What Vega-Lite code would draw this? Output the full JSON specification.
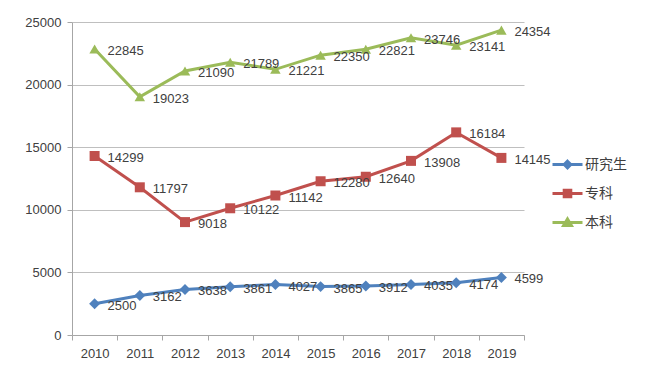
{
  "$schema": "https://vega.github.io/schema/vega-lite/v6.json",
  "width": 452,
  "height": 313,
  "autosize": {"type": "none"},
  "padding": {"left": 72, "top": 22, "right": 126, "bottom": 48},
  "background": "white",
  "config": {
    "view": {"stroke": null},
    "font": "Liberation Sans",
    "axis": {
      "labelColor": "#404040",
      "labelFontSize": 13,
      "labelFont": "Liberation Sans",
      "domainColor": "#a6a6a6",
      "tickColor": "#a6a6a6",
      "gridColor": "#bfbfbf",
      "tickSize": 5,
      "title": null
    }
  },
  "data": {
    "values": [
      {"year": "2010", "series": "研究生", "value": 2500},
      {"year": "2011", "series": "研究生", "value": 3162},
      {"year": "2012", "series": "研究生", "value": 3638},
      {"year": "2013", "series": "研究生", "value": 3861},
      {"year": "2014", "series": "研究生", "value": 4027},
      {"year": "2015", "series": "研究生", "value": 3865},
      {"year": "2016", "series": "研究生", "value": 3912},
      {"year": "2017", "series": "研究生", "value": 4035},
      {"year": "2018", "series": "研究生", "value": 4174},
      {"year": "2019", "series": "研究生", "value": 4599},
      {"year": "2010", "series": "专科", "value": 14299},
      {"year": "2011", "series": "专科", "value": 11797},
      {"year": "2012", "series": "专科", "value": 9018},
      {"year": "2013", "series": "专科", "value": 10122},
      {"year": "2014", "series": "专科", "value": 11142},
      {"year": "2015", "series": "专科", "value": 12280},
      {"year": "2016", "series": "专科", "value": 12640},
      {"year": "2017", "series": "专科", "value": 13908},
      {"year": "2018", "series": "专科", "value": 16184},
      {"year": "2019", "series": "专科", "value": 14145},
      {"year": "2010", "series": "本科", "value": 22845},
      {"year": "2011", "series": "本科", "value": 19023},
      {"year": "2012", "series": "本科", "value": 21090},
      {"year": "2013", "series": "本科", "value": 21789},
      {"year": "2014", "series": "本科", "value": 21221},
      {"year": "2015", "series": "本科", "value": 22350},
      {"year": "2016", "series": "本科", "value": 22821},
      {"year": "2017", "series": "本科", "value": 23746},
      {"year": "2018", "series": "本科", "value": 23141},
      {"year": "2019", "series": "本科", "value": 24354}
    ]
  },
  "encoding": {
    "x": {
      "field": "year",
      "type": "ordinal",
      "scale": {"type": "band", "paddingInner": 0, "paddingOuter": 0},
      "axis": {"tickBand": "extent", "labelAngle": 0, "labelPadding": 7, "grid": false}
    },
    "y": {
      "field": "value",
      "type": "quantitative",
      "scale": {"domain": [0, 25000]},
      "axis": {"values": [0, 5000, 10000, 15000, 20000, 25000], "format": "d", "labelPadding": 6, "grid": true}
    },
    "color": {
      "field": "series", "type": "nominal",
      "scale": {"domain": ["研究生", "专科", "本科"], "range": ["#4f81bd", "#c0504d", "#9bbb59"]},
      "legend": {
        "title": null,
        "orient": "none",
        "legendX": 479,
        "legendY": 126,
        "padding": 0,
        "rowPadding": 3,
        "symbolSize": 900,
        "labelFont": "Noto Sans CJK SC",
        "labelFontSize": 14,
        "labelColor": "#404040",
        "labelOffset": 1,
        "encode": {
          "symbols": {
            "update": {
              "shape": {"signal": "datum.value === '研究生' ? 'M-1,0L1,0M0,-0.22L0.22,0L0,0.22L-0.22,0Z' : datum.value === '专科' ? 'M-1,0L1,0M-0.22,-0.22L0.22,-0.22L0.22,0.22L-0.22,0.22Z' : 'M-1,0L1,0M0,-0.24L0.26,0.2L-0.26,0.2Z'"},
              "size": {"value": 900},
              "stroke": {"scale": "color", "field": "value"},
              "fill": {"scale": "color", "field": "value"},
              "strokeWidth": {"value": 3},
              "opacity": {"value": 1}
            }
          }
        }
      }
    }
  },
  "layer": [
    {
      "mark": {"type": "line", "strokeWidth": 3}
    },
    {
      "transform": [{"filter": "datum.series === '研究生'"}],
      "mark": {"type": "point", "filled": true, "opacity": 1, "size": 120, "shape": "diamond"}
    },
    {
      "transform": [{"filter": "datum.series === '专科'"}],
      "mark": {"type": "point", "filled": true, "opacity": 1, "size": 100, "shape": "square"}
    },
    {
      "transform": [{"filter": "datum.series === '本科'"}],
      "mark": {"type": "point", "filled": true, "opacity": 1, "size": 110, "shape": "triangle-up"}
    },
    {
      "mark": {"type": "text", "align": "left", "baseline": "middle", "dx": 13, "dy": 2, "fontSize": 13, "font": "Liberation Sans"},
      "encoding": {
        "text": {"field": "value", "type": "quantitative", "format": "d"},
        "color": {"value": "#404040"}
      }
    }
  ]
}
